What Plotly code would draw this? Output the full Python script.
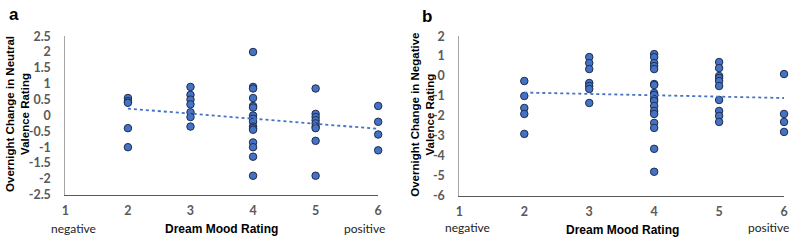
import numpy as np
import plotly.graph_objects as go

# Panel a: Overnight change in neutral valence rating by dream mood rating
a_mood = [2]*5 + [3]*7 + [4]*16 + [5]*9 + [6]*4
a_change = [0.55, 0.45, 0.4, -0.4, -1.0,
            0.9, 0.65, 0.5, 0.35, 0.1, -0.05, -0.35,
            2.0, 0.9, 0.85, 0.55, 0.3, 0.25, 0.0, -0.1, -0.2, -0.35, -0.4, -0.45, -0.85, -1.0, -1.3, -1.9,
            0.85, 0.05, -0.05, -0.15, -0.25, -0.35, -0.4, -0.8, -1.9,
            0.3, -0.2, -0.6, -1.1]

# Panel b: Overnight change in negative valence rating by dream mood rating
b_mood = [2]*5 + [3]*7 + [4]*18 + [5]*10 + [6]*4
b_change = [-0.25, -1.0, -1.6, -1.9, -2.9,
            0.95, 0.65, 0.35, -0.35, -0.5, -0.65, -1.35,
            1.1, 0.95, 0.65, 0.5, 0.35, -0.4, -0.45, -0.85, -0.95, -1.15, -1.25, -1.5, -1.75, -1.9, -2.35, -2.6, -3.65, -4.8,
            0.7, 0.4, 0.0, -0.1, -0.25, -0.5, -1.2, -1.75, -2.0, -2.3,
            0.1, -1.9, -2.3, -2.8]

x_ticks = [1, 2, 3, 4, 5, 6]
a_yticks = [2.5, 2, 1.5, 1, 0.5, 0, -0.5, -1, -1.5, -2, -2.5]
a_ytext = ["2.5", "2", "1.5", "1", "0.5", "0", "-0.5", "-1", "-1.5", "-2", "-2.5"]
b_yticks = [2, 1, 0, -1, -2, -3, -4, -5, -6]
b_ytext = ["2", "1", "0", "-1", "-2", "-3", "-4", "-5", "-6"]

W, H = 793, 244
BLUE = "#4472C4"
GRAY = "#595959"


def fit_line(x, y):
    k, c = np.polyfit(x, y, 1)
    xs = np.array([min(x), max(x)])
    return xs, k * xs + c


fig = go.Figure()
marker = dict(size=7.5, color=BLUE, line=dict(color="#1F2D4D", width=1))

for xs, ys, xa, ya in [(a_mood, a_change, "x", "y"), (b_mood, b_change, "x2", "y2")]:
    fig.add_trace(go.Scatter(x=xs, y=ys, mode="markers", marker=marker,
                             xaxis=xa, yaxis=ya, cliponaxis=False, showlegend=False))
    lx, ly = fit_line(xs, ys)
    fig.add_trace(go.Scatter(x=lx, y=ly, mode="lines",
                             line=dict(color=BLUE, width=1.8, dash="dot"),
                             xaxis=xa, yaxis=ya, cliponaxis=False, showlegend=False))

tickfont = dict(family="Lato", size=12.5, color=GRAY, weight="bold")


def xaxis(domain):
    return dict(domain=domain, range=[1, 6], tickvals=x_ticks, ticktext=[str(t) for t in x_ticks],
                showgrid=False, zeroline=False, showline=True, linecolor="#595959", linewidth=1,
                ticks="", ticklabelstandoff=4, tickfont=tickfont)


def yaxis(domain, rng, vals, text, anchor):
    return dict(domain=domain, range=rng, tickvals=vals, ticktext=text, anchor=anchor,
                showgrid=False, zeroline=False, showline=True, linecolor="#A6A6A6", linewidth=1,
                ticks="", ticklabelstandoff=11, tickfont=tickfont)


fig.update_layout(
    width=W, height=H,
    margin=dict(l=0, r=0, t=0, b=0),
    paper_bgcolor="white", plot_bgcolor="white",
    xaxis=xaxis([62 / W, 378 / W]),
    yaxis=yaxis([45 / H, 214 / H], [-2.5, 2.5], a_yticks, a_ytext, "x"),
    xaxis2=dict(xaxis([460 / W, 788 / W]), anchor="y2"),
    yaxis2=yaxis([44 / H, 214 / H], [-6, 2], b_yticks, b_ytext, "x2"),
)


def ann(text, px, py, size, bold=False, family="Liberation Sans", color="black", angle=0):
    fig.add_annotation(text=text, xref="paper", yref="paper", x=px / W, y=1 - py / H,
                       xanchor="center", yanchor="middle", showarrow=False, textangle=angle,
                       font=dict(family=family, size=size, color=color,
                                 weight="bold" if bold else "normal"))


ann("a", 10, 7, 17, bold=True)
ann("b", 427, 9, 17, bold=True)
ann("Overnight Change in Neutral<br>Valence Rating", 13, 113, 11.5, bold=True, angle=-90)
ann("Overnight Change in Negative<br>Valence Rating", 423, 114, 11.5, bold=True, angle=-90)
ann("Dream Mood Rating", 220, 235, 12, bold=True)
ann("Dream Mood Rating", 625, 237, 12, bold=True)
ann("negative", 70, 235, 12, family="Lato", color="#222222")
ann("positive", 364, 235, 12, family="Lato", color="#222222")
ann("negative", 468, 234, 12, family="Lato", color="#222222")
ann("positive", 772, 234, 12, family="Lato", color="#222222")

fig.write_html("out.html", config={"displayModeBar": False},
               post_script="document.body.style.margin='0';document.body.style.overflow='hidden';")
